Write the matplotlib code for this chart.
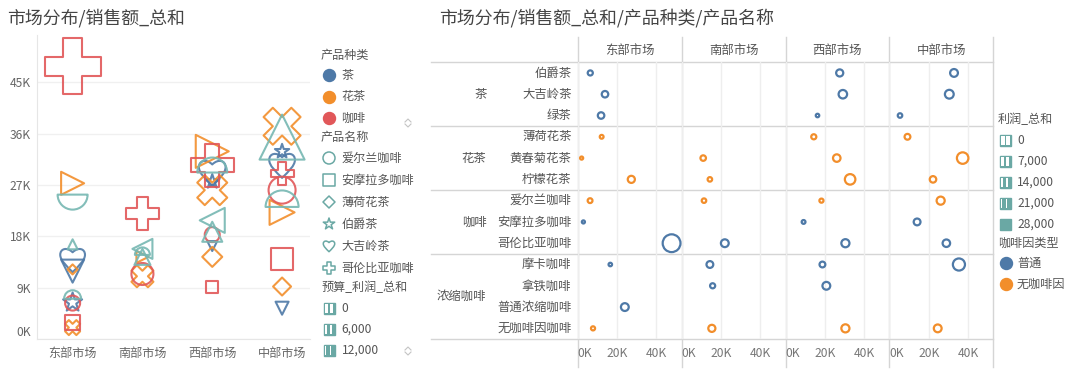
import numpy as np
import matplotlib
matplotlib.use("Agg")
import matplotlib.pyplot as plt
from matplotlib.path import Path
from matplotlib.patches import Rectangle

plt.rcParams['font.family'] = ['Noto Sans CJK SC', 'DejaVu Sans']

nan = np.nan

# ---------------- 数据 ----------------
markets = ['东部市场', '南部市场', '西部市场', '中部市场']
products = ['伯爵茶', '大吉岭茶', '绿茶', '薄荷花茶', '黄春菊花茶', '柠檬花茶',
            '爱尔兰咖啡', '安摩拉多咖啡', '哥伦比亚咖啡',
            '摩卡咖啡', '拿铁咖啡', '普通浓缩咖啡', '无咖啡因咖啡']
product_kind = ['茶', '茶', '茶', '花茶', '花茶', '花茶', '咖啡', '咖啡', '咖啡',
                '浓缩咖啡', '浓缩咖啡', '浓缩咖啡', '浓缩咖啡']
caffeine = ['普通', '普通', '普通', '无咖啡因', '无咖啡因', '无咖啡因', '无咖啡因',
            '普通', '普通', '普通', '普通', '普通', '无咖啡因']
kind_groups = ['茶', '花茶', '咖啡', '浓缩咖啡']

# 销售额_总和 (K)，按 products 顺序
sales_east = [6.4, 13.9, 11.9, 12.2, 2.0, 27.3, 6.3, 2.9, 47.8, 16.6, nan, 24.0, 7.8]
sales_south = [nan, nan, nan, nan, 11.0, 14.4, 11.4, nan, 22.0, 14.4, 15.8, nan, 15.4]
sales_west = [27.6, 29.2, 16.3, 14.4, 26.1, 32.9, 18.3, 9.2, 30.5, 18.8, 20.8, nan, 30.5]
sales_central = [32.9, 30.5, 5.4, 9.2, 37.3, 22.2, 26.1, 14.1, 29.0, 35.4, nan, nan, 24.6]

# 预算_利润_总和 (左图形状大小)
budget_east = [6000, 9000, 7500, 1000, 3500, 7500, 3500, 3500, 24000, 1000, nan, 11000, 4500]
budget_south = [nan, nan, nan, nan, 7000, 2000, 7000, nan, 12500, 4000, 6000, nan, 3500]
budget_west = [3500, 10000, 1000, 6000, 11000, 12500, 3500, 2000, 17500, 6000, 8500, nan, 11000]
budget_central = [3500, 9500, 2500, 5000, 14500, 8500, 9500, 7000, 7500, 18500, nan, nan, 12500]

# 利润_总和 (右图圆圈大小)
profit_east = [4600, 7400, 7400, 2000, 600, 8600, 4000, 600, 30000, 1400, nan, 10000, 2600]
profit_south = [nan, nan, nan, nan, 5400, 3400, 3400, nan, 10000, 8000, 4600, nan, 8600]
profit_west = [8600, 11400, 1400, 4600, 9400, 15400, 2600, 2000, 10600, 6000, 10000, nan, 10600]
profit_central = [10000, 12000, 3400, 6000, 17400, 7400, 10600, 8000, 9400, 18600, nan, nan, 10000]

sales = [sales_east, sales_south, sales_west, sales_central]
budget = [budget_east, budget_south, budget_west, budget_central]
profit = [profit_east, profit_south, profit_west, profit_central]

y_ticks = [0, 9, 18, 27, 36, 45]
x_ticks = [0, 20, 40]

kind_legend = ['茶', '花茶', '咖啡']
name_legend = ['爱尔兰咖啡', '安摩拉多咖啡', '薄荷花茶', '伯爵茶', '大吉岭茶', '哥伦比亚咖啡']
budget_legend = [0, 6000, 12000]
profit_legend = [0, 7000, 14000, 21000, 28000]
caffeine_legend = ['普通', '无咖啡因']

# ---------------- 样式 ----------------
kind_colors = {'茶': '#4e79a7', '花茶': '#f28e2b', '咖啡': '#e15759', '浓缩咖啡': '#76b7b2'}
caf_colors = {'普通': '#4e79a7', '无咖啡因': '#f28e2b'}
teal = '#6aa8a4'
txt = '#555555'
sep = '#d5d5d5'

# 自定义形状
heart = Path([(0, -1), (-0.5, -0.5), (-1, -0.05), (-1, 0.4), (-1, 0.9), (-0.45, 1.05), (0, 0.6),
              (0.45, 1.05), (1, 0.9), (1, 0.4), (1, -0.05), (0.5, -0.5), (0, -1), (0, -1)],
             [Path.MOVETO] + [Path.CURVE4] * 12 + [Path.CLOSEPOLY])
arc = Path.arc(180, 360)
av = arc.vertices.copy()
av[:, 1] += 0.5
bowl = Path(np.vstack([av, av[:1]]), list(arc.codes) + [Path.CLOSEPOLY])
dome = Path(np.vstack([av, av[:1]]) * [1, -1], list(arc.codes) + [Path.CLOSEPOLY])

shapes = {'伯爵茶': '*', '大吉岭茶': heart, '绿茶': 'v', '薄荷花茶': 'D', '黄春菊花茶': 'X',
          '柠檬花茶': '>', '爱尔兰咖啡': 'o', '安摩拉多咖啡': 's', '哥伦比亚咖啡': 'P',
          '摩卡咖啡': '^', '拿铁咖啡': '<', '普通浓缩咖啡': bowl, '无咖啡因咖啡': dome}


def shape_area(marker, width_px):
    ms = width_px * 0.72
    if marker == 'D':
        ms /= 1.414
    return ms ** 2


W, H = 1075, 375
fig = plt.figure(figsize=(W / 100, H / 100), dpi=100)


def px_box(x0, y0, x1, y1):
    return [x0 / W, 1 - y1 / H, (x1 - x0) / W, (y1 - y0) / H]


# 叠加层：像素坐标，用于标题、图例、分隔线
ov = fig.add_axes([0, 0, 1, 1])
ov.set_xlim(0, W)
ov.set_ylim(H, 0)
ov.axis('off')
ov.set_zorder(0)

ov.text(7, 18, '市场分布/销售额_总和', fontsize=12.9, color='#444', va='center')
ov.text(439, 18, '市场分布/销售额_总和/产品种类/产品名称', fontsize=12.9, color='#444', va='center')

# ---------------- 左图 ----------------
ax = fig.add_axes(px_box(37, 35, 310, 339))
ax.set_zorder(1)
ax.patch.set_visible(False)
for j, name in enumerate(products):
    xs, ys, ss = [], [], []
    for i in range(len(markets)):
        if not np.isnan(sales[i][j]):
            xs.append(i)
            ys.append(sales[i][j])
            ss.append(shape_area(shapes[name], 8 + budget[i][j] / 500))
    ax.scatter(xs, ys, s=ss, marker=shapes[name], facecolors='none',
               edgecolors=kind_colors[product_kind[j]], linewidths=1.5, alpha=0.9, zorder=3)

ax.set_xlim(-0.51, 3.40)
ax.set_ylim(0, 53.3)
ax.set_xticks(range(len(markets)), markets)
ax.set_yticks(y_ticks, [f'{v}K' for v in y_ticks])
ax.get_yticklabels()[0].set_verticalalignment('bottom')
ax.grid(axis='y', color='#f0f0f0', lw=1)
ax.set_axisbelow(True)
for s in ['top', 'right']:
    ax.spines[s].set_visible(False)
for s in ['left', 'bottom']:
    ax.spines[s].set_color('#e6e6e6')
ax.tick_params(length=0, colors='#666', labelsize=8.7)
ax.tick_params(axis='y', pad=4.5)
ax.tick_params(axis='x', pad=6)

# 左图图例
ov.text(321, 55, '产品种类', fontsize=8.7, color=txt, va='center')
for k, lab in enumerate(kind_legend):
    y = 75 + k * 21.5
    ov.scatter([329], [y], s=(12 * 0.72) ** 2, color=kind_colors[lab], zorder=3)
    ov.text(341.5, y, lab, fontsize=8.7, color=txt, va='center')
ov.text(321, 138, '产品名称', fontsize=8.7, color=txt, va='center')
for k, lab in enumerate(name_legend):
    y = 158 + k * 22
    ov.scatter([329], [y], s=shape_area(shapes[lab], 12), marker=shapes[lab],
               facecolors='none', edgecolors=teal, linewidths=1.1, zorder=3)
    ov.text(341.5, y, lab, fontsize=8.7, color=txt, va='center')
ov.text(321, 288, '预算_利润_总和', fontsize=8.7, color=txt, va='center')


def size_icon(x, y, frac):
    w, h = 11, 11
    ov.add_patch(Rectangle((x - w / 2, y - h / 2), w, h, facecolor=teal, edgecolor=teal, lw=1))
    gap = 3.6 * (1 - frac)
    if gap > 0.2:
        ov.add_patch(Rectangle((x - w / 2 + 1, y - h / 2 + 1), gap, h - 2, facecolor='white', lw=0))
        ov.add_patch(Rectangle((x + 0.6, y - h / 2 + 1), gap, h - 2, facecolor='white', lw=0))


for k, v in enumerate(budget_legend):
    y = 308 + k * 21
    size_icon(329, y, v / 24000)
    ov.text(341.5, y, f'{v:,}', fontsize=8.7, color=txt, va='center')


def scroll(x, y):
    ov.plot([x - 3, x, x + 3], [y - 1, y - 4, y - 1], color='#c4c4c4', lw=0.8)
    ov.plot([x - 3, x, x + 3], [y + 1, y + 4, y + 1], color='#c4c4c4', lw=0.8)


scroll(408, 123)
scroll(408, 268)
scroll(408, 351)

# ---------------- 右图 ----------------
p0, pw = 577.7, 103.9
top_y, bot_y = 62.3, 339
row_h = (bot_y - top_y) / len(products)

for i, m in enumerate(markets):
    x0 = p0 + i * pw
    axr = fig.add_axes(px_box(x0, top_y, x0 + pw, bot_y))
    axr.set_zorder(1)
    axr.patch.set_visible(False)
    for j in range(len(products)):
        v = sales[i][j]
        if np.isnan(v):
            continue
        d = 5 + profit[i][j] / 2000
        axr.scatter([v], [j], s=((d - 2.2) * 0.72) ** 2, facecolors='none',
                    edgecolors=caf_colors[caffeine[j]], linewidths=1.6, zorder=3)
    axr.set_xlim(0, 52.9)
    axr.set_ylim(len(products) - 0.5, -0.5)
    axr.set_yticks([])
    axr.set_xticks(x_ticks, [f'{t}K' for t in x_ticks])
    axr.get_xticklabels()[0].set_horizontalalignment('left')
    axr.grid(axis='x', color='#eeeeee', lw=1)
    axr.set_axisbelow(True)
    for s in axr.spines.values():
        s.set_visible(False)
    axr.tick_params(length=0, colors='#777', labelsize=8.7, pad=6)
    ov.text(x0 + pw / 2, 50.5, m, fontsize=8.9, color=txt, ha='center', va='center')

# 分隔线
for i in range(len(markets) + 1):
    x = p0 + i * pw
    ov.plot([x, x], [37, 367], color=sep, lw=1)
bounds = [0, 3, 6, 9, 13]
for b in bounds:
    y = top_y + b * row_h
    ov.plot([431, p0 + 4 * pw], [y, y], color=sep, lw=1)

# 行标签
for j, name in enumerate(products):
    ov.text(571.5, top_y + (j + 0.5) * row_h, name, fontsize=8.9, color=txt,
            ha='right', va='center')
for g, kind in enumerate(kind_groups):
    yc = top_y + (bounds[g] + bounds[g + 1]) / 2 * row_h
    ov.text(486.5, yc, kind, fontsize=8.9, color=txt, ha='right', va='center')

# 右图图例
ov.text(998, 120, '利润_总和', fontsize=8.7, color=txt, va='center')
for k, v in enumerate(profit_legend):
    y = 140 + k * 21
    size_icon(1005.5, y, v / 28000)
    ov.text(1017, y, f'{v:,}', fontsize=8.7, color=txt, va='center')
ov.text(998, 243, '咖啡因类型', fontsize=8.7, color=txt, va='center')
for k, lab in enumerate(caffeine_legend):
    y = 263 + k * 21
    ov.scatter([1005.5], [y], s=(12 * 0.72) ** 2, color=caf_colors[lab], zorder=3)
    ov.text(1017, y, lab, fontsize=8.7, color=txt, va='center')

fig.savefig('out.png', dpi=100, facecolor='white')
